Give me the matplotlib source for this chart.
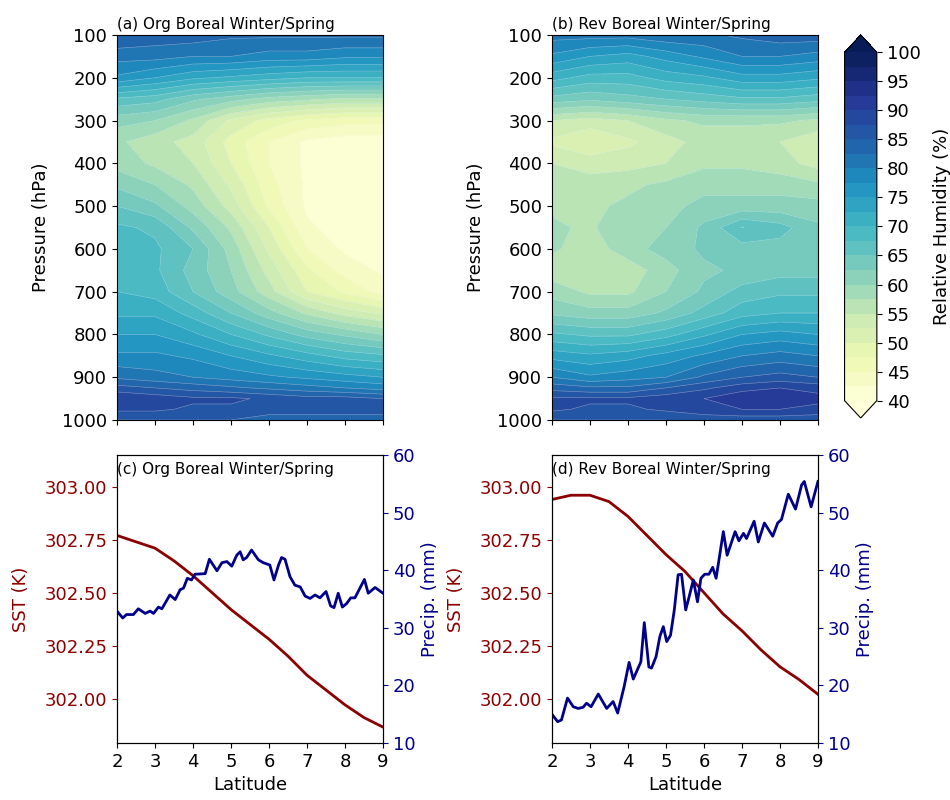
import numpy as np
import matplotlib
matplotlib.use("Agg")
from matplotlib import pyplot as plt

plt.rcParams["font.size"] = 13

# pressure levels (hPa) and latitudes of the RH cross sections
pres = [100, 150, 200, 250, 300, 350, 400, 450, 500, 550, 600,
        650, 700, 750, 800, 850, 900, 925, 950, 975, 1000]
lat_grid = [2, 3, 4, 5, 6, 7, 8, 9]

# relative humidity (%), rows = pressure, columns = latitude
rh_org = [
    [85, 84, 84, 83, 83, 83, 83, 83],
    [81, 81, 80, 80, 79, 79, 78, 78],
    [77, 75, 73, 72, 71, 70, 70, 70],
    [67, 66, 63, 61, 59, 58, 57, 57],
    [61, 60, 57, 52, 49, 47, 46, 46],
    [58, 56, 54, 49, 45, 42, 41, 41],
    [59, 57, 55, 50, 45, 42, 41, 41],
    [62, 60, 57, 52, 46, 42, 41, 41],
    [65, 63, 59, 54, 47, 42, 41, 41],
    [68, 67, 62, 57, 50, 43, 41, 41],
    [69, 68, 65, 59, 52, 45, 42, 41],
    [69, 68, 64, 60, 54, 48, 44, 42],
    [70, 69, 65, 61, 56, 50, 47, 44],
    [72, 72, 69, 65, 61, 57, 54, 52],
    [75, 75, 73, 70, 67, 64, 62, 60],
    [78, 78, 77, 75, 73, 71, 69, 68],
    [82, 81, 80, 79, 78, 77, 76, 75],
    [86, 85, 84, 83, 82, 81, 80, 79],
    [90, 89, 88, 88, 87, 86, 86, 85],
    [88, 88, 87, 87, 86, 86, 86, 86],
    [85, 85, 85, 85, 84, 84, 84, 84],
]

rh_rev = [
    [81, 81, 81, 82, 82, 83, 84, 84],
    [77, 75, 74, 76, 78, 80, 80, 79],
    [71, 69, 69, 71, 72, 74, 74, 73],
    [64, 63, 64, 65, 66, 67, 67, 66],
    [55, 54, 55, 57, 58, 58, 58, 57],
    [52, 50, 52, 54, 56, 56, 55, 53],
    [55, 54, 54, 55, 57, 57, 56, 54],
    [56, 56, 57, 58, 59, 59, 59, 58],
    [57, 57, 58, 59, 61, 61, 61, 61],
    [58, 57, 60, 60, 63, 67.6, 66, 63],
    [58, 56, 59, 61, 63, 64, 64, 63],
    [56, 56, 56, 59, 62, 63, 64, 64],
    [59, 57, 57, 60, 63, 66, 67, 67],
    [62, 61, 61, 63, 66, 69, 70, 70],
    [68, 67, 67, 69, 72, 75, 76, 75],
    [74, 73, 74, 76, 78, 80, 81, 80],
    [80, 78, 79, 80, 83, 85, 86, 85],
    [84, 83, 83, 85, 87, 89, 90, 89],
    [88, 88, 88, 89, 90, 92, 92, 91],
    [88, 87, 87, 88, 89, 90, 90, 89],
    [85, 85, 85, 85, 86, 86, 86, 86],
]

# zonal-mean SST (K) along latitude
sst_lat = [2, 2.5, 3, 3.5, 4, 4.5, 5, 5.5, 6, 6.5, 7, 7.5, 8, 8.5, 9]
sst_org = [302.77, 302.74, 302.71, 302.65, 302.58, 302.50, 302.42, 302.35,
           302.28, 302.20, 302.11, 302.04, 301.97, 301.91, 301.865]
sst_rev = [302.94, 302.96, 302.96, 302.93, 302.86, 302.77, 302.68, 302.60,
           302.50, 302.40, 302.32, 302.23, 302.15, 302.09, 302.02]

# precipitation (mm)
pr_lat_org = [2.01, 2.15, 2.25, 2.43, 2.56, 2.74, 2.87, 2.96, 3.09, 3.18,
              3.39, 3.53, 3.66, 3.75, 3.85, 3.96, 4.05, 4.32, 4.43, 4.63,
              4.76, 4.89, 5.02, 5.15, 5.24, 5.32, 5.41, 5.54, 5.72, 5.85,
              6.02, 6.13, 6.25, 6.33, 6.42, 6.55, 6.68, 6.82, 6.95, 7.08,
              7.21, 7.34, 7.50, 7.62, 7.71, 7.82, 7.93, 8.04, 8.15, 8.26,
              8.51, 8.61, 8.79, 9.0]
pr_org = [32.8, 31.7, 32.3, 32.3, 33.3, 32.5, 32.9, 32.5, 33.6, 33.3,
          35.7, 34.9, 36.6, 36.9, 38.6, 38.3, 39.3, 39.4, 41.9, 39.9,
          41.3, 41.5, 40.7, 42.6, 43.2, 41.8, 42.2, 43.5, 41.8, 41.3,
          40.9, 38.3, 40.9, 42.2, 41.9, 38.9, 37.4, 37.1, 35.5, 35.1,
          35.7, 35.2, 36.3, 33.8, 33.5, 36.0, 33.6, 34.2, 35.2, 35.2,
          38.4, 36.0, 37.0, 36.0]

pr_lat_rev = [2.01, 2.15, 2.25, 2.41, 2.56, 2.69, 2.82, 2.91, 3.03, 3.22,
              3.44, 3.61, 3.73, 3.90, 4.03, 4.14, 4.34, 4.43, 4.55, 4.62,
              4.74, 4.84, 4.93, 5.02, 5.12, 5.22, 5.32, 5.41, 5.52, 5.61,
              5.72, 5.83, 5.92, 6.02, 6.13, 6.23, 6.32, 6.51, 6.61, 6.82,
              6.92, 7.04, 7.12, 7.32, 7.43, 7.59, 7.81, 7.94, 8.04, 8.22,
              8.41, 8.57, 8.64, 8.82, 9.0]
pr_rev = [14.9, 13.7, 14.0, 17.8, 16.3, 16.0, 16.2, 16.9, 16.3, 18.5,
          16.0, 17.2, 15.2, 19.8, 24.0, 21.1, 24.1, 30.9, 23.2, 23.0,
          25.0, 28.5, 30.2, 27.6, 28.7, 33.1, 39.2, 39.3, 33.1, 35.4,
          38.3, 34.5, 38.6, 39.3, 39.3, 40.5, 38.6, 46.7, 42.6, 46.7,
          45.1, 46.4, 45.5, 48.5, 44.9, 48.2, 45.9, 48.2, 48.8, 53.2,
          50.6, 54.8, 55.4, 51.0, 55.4]

levels = np.arange(40, 100.1, 2.5)
sst_color = "darkred"
pr_color = "darkblue"

fig = plt.figure(figsize=(9.5, 8), dpi=100)
ax_a = fig.add_axes([0.1232, 0.475, 0.28, 0.48125])
ax_b = fig.add_axes([0.581, 0.475, 0.28, 0.48125])
cax = fig.add_axes([0.889, 0.4775, 0.034, 0.4788])
ax_c = fig.add_axes([0.1232, 0.07125, 0.28, 0.36])
ax_d = fig.add_axes([0.581, 0.07125, 0.28, 0.36])

for ax, rh, title in [(ax_a, rh_org, "(a) Org Boreal Winter/Spring"),
                      (ax_b, rh_rev, "(b) Rev Boreal Winter/Spring")]:
    cf = ax.contourf(lat_grid, pres, rh, levels=levels, cmap="YlGnBu",
                     extend="both")
    ax.contour(lat_grid, pres, rh, levels=levels, colors="white",
               linewidths=0.4, alpha=0.45)
    ax.set_xlim(2, 9)
    ax.set_ylim(1000, 100)
    ax.set_xticks(range(2, 10))
    ax.set_xticklabels([])
    ax.set_yticks(range(100, 1001, 100))
    ax.set_ylabel("Pressure (hPa)", labelpad=9)
    ax.set_title(title, loc="left", fontsize=11, pad=4)

cb = fig.colorbar(cf, cax=cax, ticks=range(40, 101, 5))
cb.set_label("Relative Humidity (%)", labelpad=9)

for ax, sst, plat, pr, title in [
        (ax_c, sst_org, pr_lat_org, pr_org, "(c) Org Boreal Winter/Spring"),
        (ax_d, sst_rev, pr_lat_rev, pr_rev, "(d) Rev Boreal Winter/Spring")]:
    ax.plot(sst_lat, sst, color=sst_color, lw=2)
    ax.set_xlim(2, 9)
    ax.set_ylim(301.79, 303.15)
    ax.set_xticks(range(2, 10))
    ax.set_yticks([302.0, 302.25, 302.5, 302.75, 303.0])
    ax.set_yticklabels(["302.00", "302.25", "302.50", "302.75", "303.00"])
    ax.set_xlabel("Latitude")
    ax.set_ylabel("SST (K)", color=sst_color, labelpad=10)
    ax.tick_params(axis="y", colors=sst_color)
    ax.text(0.0, 0.975, title, transform=ax.transAxes, fontsize=11,
            ha="left", va="top")

    ax2 = ax.twinx()
    ax2.plot(plat, pr, color=pr_color, lw=2)
    ax2.set_ylim(10, 60)
    ax2.set_yticks(range(10, 61, 10))
    ax2.set_ylabel("Precip. (mm)", color=pr_color)
    ax2.tick_params(axis="y", colors=pr_color)

fig.savefig("out.png", dpi=100)
